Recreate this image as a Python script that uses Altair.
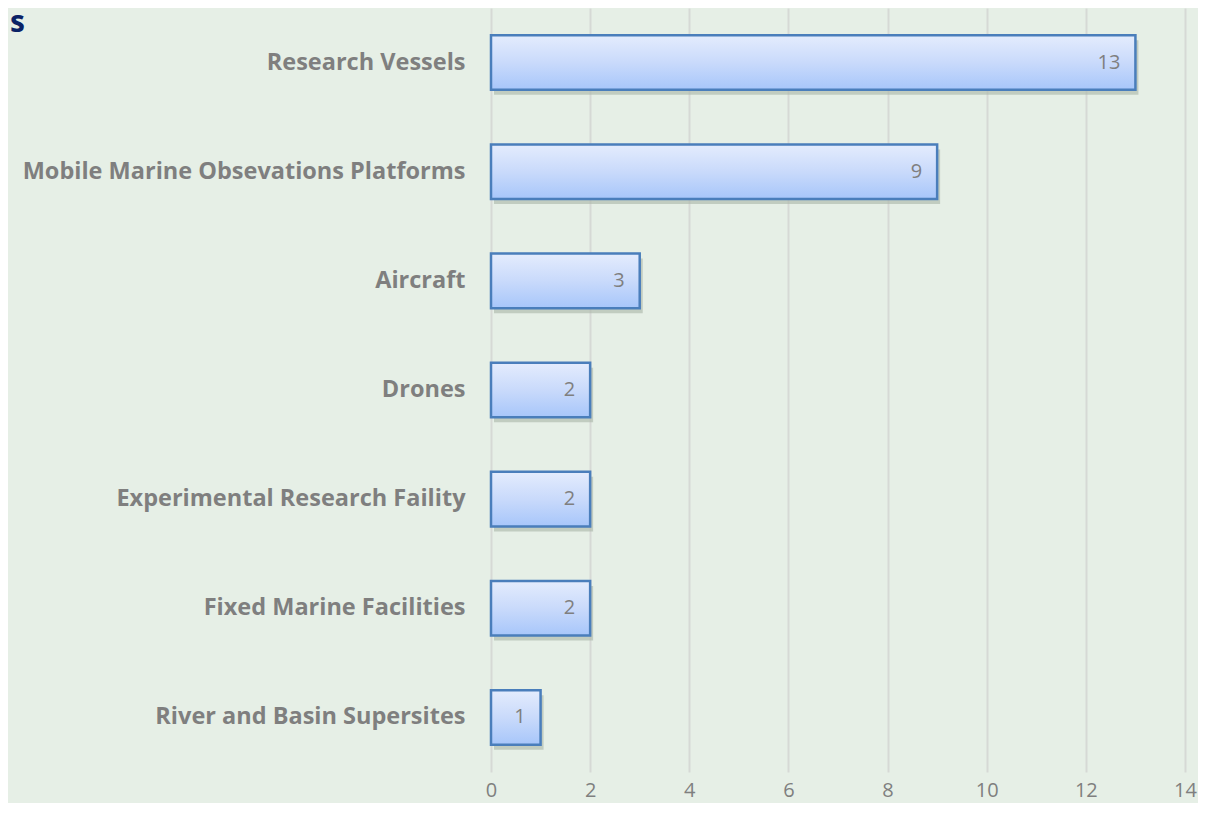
import altair as alt
import pandas as pd

categories = [
    "Research Vessels",
    "Mobile Marine Obsevations Platforms",
    "Aircraft",
    "Drones",
    "Experimental Research Faility",
    "Fixed Marine Facilities",
    "River and Basin Supersites",
]
values = [13, 9, 3, 2, 2, 2, 1]
x_ticks = [0, 2, 4, 6, 8, 10, 12, 14]

df = pd.DataFrame({"category": categories, "value": values})

FONT = "Open Sans"
GREY = "#7f7f7f"

y_enc = alt.Y("category:N", sort=categories,
              scale=alt.Scale(paddingInner=0.5, paddingOuter=0.25),
              axis=alt.Axis(title=None, labelFont=FONT, labelFontWeight="bold",
                            labelFontSize=23.5, labelColor=GREY, labelPadding=26,
                            ticks=False, domain=False, grid=False, labelLimit=500))
x_enc = alt.X("value:Q", scale=alt.Scale(domain=[0, 14], nice=False),
              axis=alt.Axis(title=None, values=x_ticks, labelFont=FONT, labelFontSize=20,
                            labelColor=GREY, ticks=False, domain=False, grid=True,
                            labelFlush=False,
                            gridColor="#d6d9d5", gridWidth=2, labelPadding=8))

base = alt.Chart(df)

shadow = base.mark_bar(color="#aeb8ac", opacity=0.65, xOffset=3, yOffset=5).encode(
    y=y_enc, x=x_enc
)

gradient = alt.Gradient(
    gradient="linear",
    stops=[alt.GradientStop(color="#e4ecfd", offset=0),
           alt.GradientStop(color="#c9dafb", offset=0.5),
           alt.GradientStop(color="#a7c6fa", offset=1)],
    x1=0, x2=0, y1=0, y2=1,
)

bars = base.mark_bar(fill=gradient, stroke="#4a7ebb", strokeWidth=2.5).encode(
    y=y_enc, x=x_enc
)

labels = base.mark_text(align="right", baseline="middle", dx=-15, font=FONT,
                        fontSize=20, color=GREY).encode(
    y=alt.Y("category:N", sort=categories), x="value:Q", text="value:Q"
)

title_frag = base.mark_text(align="left", baseline="alphabetic", font=FONT, fontSize=30,
                            fontWeight="bold", color="#0a2266").encode(
    x=alt.value(-481), y=alt.value(24), text=alt.value("s")
).transform_filter(alt.datum.category == categories[0])

chart = alt.layer(shadow, bars, labels, title_frag).properties(
    width=694, height=764,
    background="#e6efe6",
    padding={"left": 483, "top": 0, "right": 13, "bottom": 31},
    autosize=alt.AutoSizeParams(type="none"),
).configure_view(stroke=None)

chart.save("out.html", embed_options={"renderer": "svg", "actions": False})
